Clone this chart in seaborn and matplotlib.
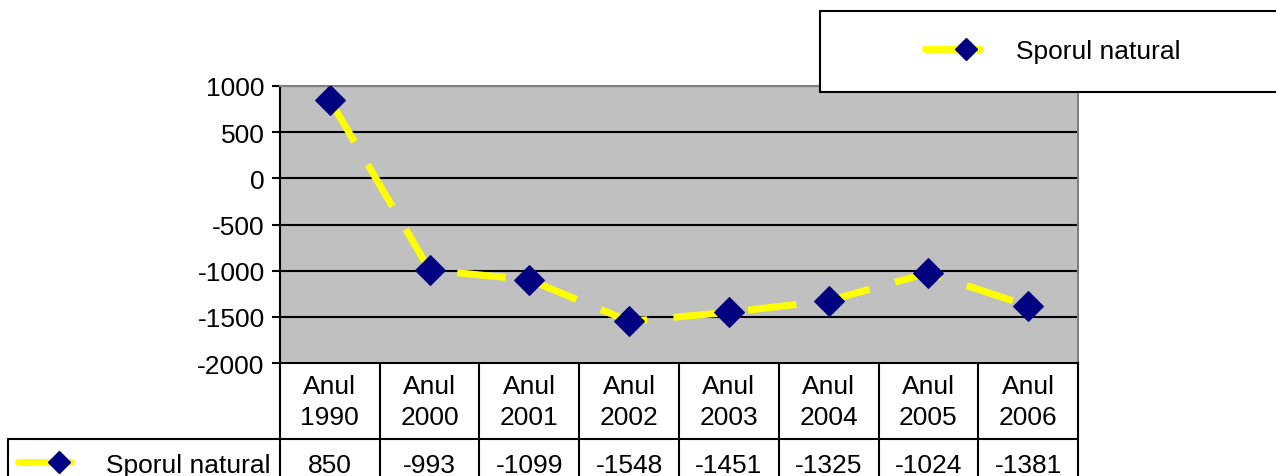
import numpy as np
import pandas as pd
import seaborn as sns
import matplotlib.pyplot as plt
from matplotlib.lines import Line2D

# data
ani = ['1990', '2000', '2001', '2002', '2003', '2004', '2005', '2006']
sporul = [850, -993, -1099, -1548, -1451, -1325, -1024, -1381]
serie = 'Sporul natural'

sns.set_style("white")
plt.rcParams['font.family'] = ['Liberation Sans', 'DejaVu Sans']
plt.rcParams['axes.unicode_minus'] = False
plt.rcParams['text.color'] = 'black'
fs = 19

W, H = 1276, 477
fig = plt.figure(figsize=(W / 100, H / 100), dpi=100)

# plot area in pixels
L, R, T, B = 280, 1078, 87, 364
ax = fig.add_axes([L / W, 1 - B / H, (R - L) / W, (B - T) / H])
ax.set_facecolor('#C0C0C0')

df = pd.DataFrame({'x': np.arange(len(ani)), 'val': sporul})
sns.lineplot(data=df, x='x', y='val', ax=ax, color='#FFFF00', lw=5,
             marker='D', markersize=15, markerfacecolor='#000080',
             markeredgecolor='#000080', zorder=3)
ax.lines[0].set_linestyle((0, (7, 3.8)))

ax.set_xlim(-0.5, len(ani) - 0.5)
ax.set_ylim(-2000, 1000)
ax.set_yticks(np.arange(-2000, 1001, 500))
for v in np.arange(-1500, 1001, 500):
    ax.axhline(v, color='black', lw=1.5, zorder=1)
ax.set_xticks([])
ax.set_xlabel('')
ax.set_ylabel('')
ax.tick_params(axis='y', direction='out', length=6, width=1.5, labelsize=fs,
               left=True, pad=5, colors='black')
for s in ['left', 'bottom']:
    ax.spines[s].set_color('black')
    ax.spines[s].set_linewidth(1.5)
for s in ['top', 'right']:
    ax.spines[s].set_color('#808080')
    ax.spines[s].set_linewidth(1.5)


def fx(x):
    return x / W


def fy(y):
    return 1 - y / H


def linia(x0, y0, x1, y1, **kw):
    fig.add_artist(Line2D([fx(x0), fx(x1)], [fy(y0), fy(y1)], color='black',
                          lw=1.5, transform=fig.transFigure, **kw))


# data table
cw = (R - L) / len(ani)
rand1 = 440
for i in range(len(ani) + 1):
    linia(L + i * cw, B, L + i * cw, H + 5)
linia(8, rand1, R, rand1)
linia(8, rand1, 8, H + 5)
for i, (an, v) in enumerate(zip(ani, sporul)):
    cx = L + (i + 0.5) * cw
    fig.text(fx(cx), fy(387), 'Anul', ha='center', va='center', fontsize=fs)
    fig.text(fx(cx), fy(418), an, ha='center', va='center', fontsize=fs)
    fig.text(fx(cx), fy(466), str(v), ha='center', va='center', fontsize=fs)
fig.text(fx(270), fy(466), serie, ha='right', va='center', fontsize=fs)
fig.add_artist(Line2D([fx(18), fx(71)], [fy(463), fy(463)], color='#FFFF00',
                      lw=5, transform=fig.transFigure))
fig.add_artist(Line2D([fx(59)], [fy(463)], marker='D', markersize=11,
                      color='#000080', transform=fig.transFigure))

# legend box
fig.add_artist(plt.Rectangle((fx(820), fy(93)), fx(470), fy(12) - fy(93),
                             facecolor='white', edgecolor='black', lw=1.5,
                             transform=fig.transFigure, zorder=5))
fig.add_artist(Line2D([fx(925), fx(980)], [fy(50), fy(50)], color='#FFFF00',
                      lw=5, transform=fig.transFigure, zorder=6))
fig.add_artist(Line2D([fx(966)], [fy(50)], marker='D', markersize=11,
                      color='#000080', transform=fig.transFigure, zorder=6))
fig.text(fx(1016), fy(52), serie, ha='left', va='center', fontsize=fs,
         zorder=6)

fig.savefig('out.png', dpi=100)
